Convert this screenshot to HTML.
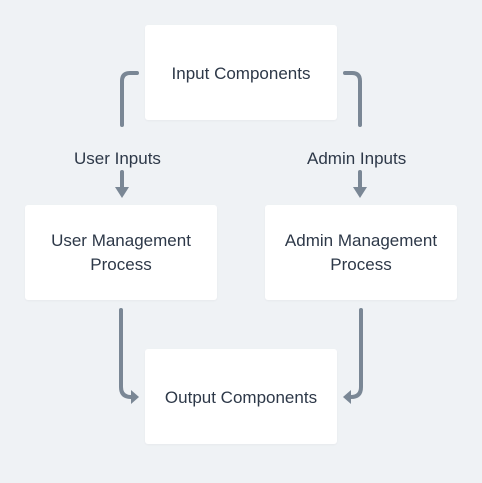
<!DOCTYPE html>
<html><head><style>
html,body{margin:0;padding:0;background:#eff2f5;width:482px;height:483px;overflow:hidden;font-family:"Liberation Sans",sans-serif}
.b{position:absolute;background:#fff;border-radius:3px;color:#2d3848;font-size:17px;text-align:center;box-shadow:0 1px 2px rgba(0,0,0,0.04)}
.l{position:absolute;color:#2d3848;font-size:17px}
</style></head><body>
<svg width="482" height="483" style="position:absolute;left:0;top:0">
<g fill="none" stroke="#7a8795" stroke-width="4" stroke-linecap="round">
<path d="M137 73 H130 Q122 73 122 81 V125"/>
<path d="M122 172 V190"/>
<path d="M345 73 H352 Q360 73 360 81 V125"/>
<path d="M360 172 V190"/>
<path d="M121 310 V387 Q121 397 131 397 H133"/>
<path d="M361 310 V387 Q361 397 351 397 H349"/>
</g>
<g fill="#7a8795">
<path d="M115 187 H129 L122 198 Z"/>
<path d="M353 187 H367 L360 198 Z"/>
<path d="M131 390 V404 L139 397 Z"/>
<path d="M351 390 V404 L343 397 Z"/>
</g>
</svg>
<div class="b" style="left:145px;top:25px;width:192px;height:95px;line-height:97px">Input Components</div>
<div class="b" style="left:25px;top:205px;width:192px;height:95px;display:flex;align-items:center;justify-content:center;line-height:24px">User Management<br>Process</div>
<div class="b" style="left:265px;top:205px;width:192px;height:95px;display:flex;align-items:center;justify-content:center;line-height:24px">Admin Management<br>Process</div>
<div class="b" style="left:145px;top:349px;width:192px;height:95px;line-height:97px">Output Components</div>
<div class="l" style="left:74px;top:149px">User Inputs</div>
<div class="l" style="left:307px;top:149px">Admin Inputs</div>
</body></html>
